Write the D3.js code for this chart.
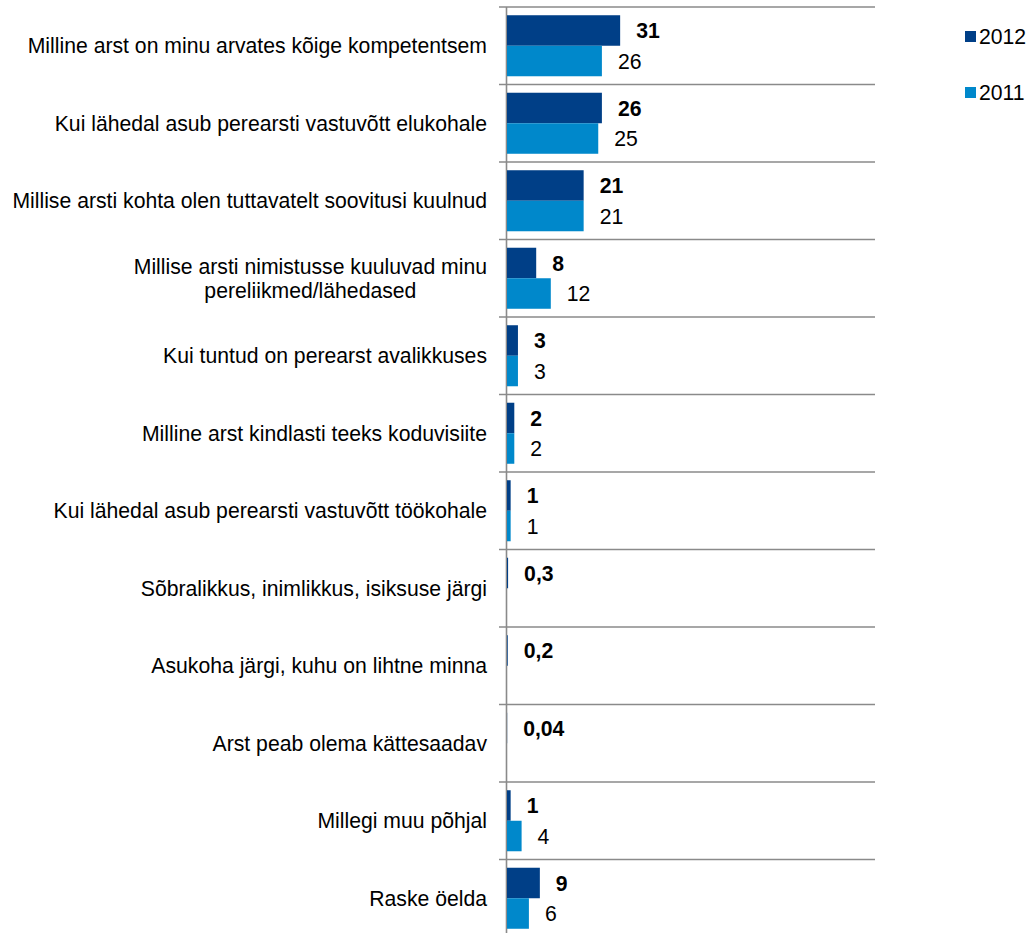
<!DOCTYPE html>
<html>
<head>
<meta charset="utf-8">
<script src="https://cdn.jsdelivr.net/npm/d3@7/dist/d3.min.js"></script>
<style>
  html, body { margin: 0; padding: 0; background: #fff; }
  svg { display: block; font-family: "Liberation Sans", Arial, sans-serif; }
</style>
</head>
<body>
<svg id="chart" width="1029" height="933"></svg>
<script>
// Survey reasons for choosing a family doctor (%), 2012 vs 2011
const categories = [
  ["Milline arst on minu arvates kõige kompetentsem"],
  ["Kui lähedal asub perearsti vastuvõtt elukohale"],
  ["Millise arsti kohta olen tuttavatelt soovitusi kuulnud"],
  ["Millise arsti nimistusse kuuluvad minu", "pereliikmed/lähedased"],
  ["Kui tuntud on perearst avalikkuses"],
  ["Milline arst kindlasti teeks koduvisiite"],
  ["Kui lähedal asub perearsti vastuvõtt töökohale"],
  ["Sõbralikkus, inimlikkus, isiksuse järgi"],
  ["Asukoha järgi, kuhu on lihtne minna"],
  ["Arst peab olema kättesaadav"],
  ["Millegi muu põhjal"],
  ["Raske öelda"]
];
const seriesNames = ["2012", "2011"];
const values2012 = [31, 26, 21, 8, 3, 2, 1, 0.3, 0.2, 0.04, 1, 9];
const values2011 = [26, 25, 21, 12, 3, 2, 1, null, null, null, 4, 6];
const seriesColors = ["#003f87", "#0088cb"];

const svg = d3.select("#chart");
const axisX = 507;
const plotTop = 7, bandH = 77.5;
const fontSize = 21.2;

const x = d3.scaleLinear().domain([0, 1]).range([axisX, axisX + 3.65]);
const y0 = d3.scaleBand()
  .domain(d3.range(categories.length))
  .range([plotTop, plotTop + bandH * categories.length])
  .padding(0);
const y1 = d3.scaleBand()
  .domain(seriesNames)
  .range([0, y0.bandwidth()])
  .paddingInner(0)
  .paddingOuter(0.27);

const fmt = d3.formatLocale({ decimal: ",", thousands: " ", grouping: [3], currency: ["", ""] }).format("~g");

// horizontal separators between categories
const gridY = d3.range(categories.length + 1).map(i => plotTop + i * bandH);
svg.append("g").selectAll("line").data(gridY).join("line")
  .attr("x1", 499).attr("x2", 875)
  .attr("y1", d => d).attr("y2", d => d)
  .attr("stroke", "#8a8a8a").attr("stroke-width", 1.6);

// category axis line
svg.append("line")
  .attr("x1", axisX - 0.5).attr("x2", axisX - 0.5)
  .attr("y1", plotTop).attr("y2", 933)
  .attr("stroke", "#8a8a8a").attr("stroke-width", 1.6);

const rows = categories.map((c, i) => ({
  i, lines: c,
  vals: [
    { s: seriesNames[0], v: values2012[i], c: seriesColors[0], bold: true },
    { s: seriesNames[1], v: values2011[i], c: seriesColors[1], bold: false }
  ]
}));

const grp = svg.append("g").selectAll("g").data(rows).join("g")
  .attr("transform", d => `translate(0,${y0(d.i)})`);

grp.selectAll("rect").data(d => d.vals.filter(e => e.v != null)).join("rect")
  .attr("x", axisX)
  .attr("y", e => y1(e.s))
  .attr("width", e => x(e.v) - axisX)
  .attr("height", y1.bandwidth())
  .attr("fill", e => e.c);

grp.selectAll("text.val").data(d => d.vals.filter(e => e.v != null)).join("text")
  .attr("class", "val")
  .attr("x", e => x(e.v) + 16)
  .attr("y", e => y1(e.s) + y1.bandwidth() / 2)
  .attr("dy", "0.36em")
  .attr("font-size", fontSize)
  .attr("font-weight", e => e.bold ? "bold" : "normal")
  .attr("fill", "#000")
  .text(e => fmt(e.v));

// category labels, multi-line labels centered on their widest line
const labelRight = 487;
grp.each(function(d) {
  const g = d3.select(this);
  const t = g.append("text")
    .attr("font-size", fontSize)
    .attr("fill", "#000");
  const n = d.lines.length;
  const lh = 23.5;
  d.lines.forEach((ln, k) => {
    t.append("tspan")
      .attr("y", bandH / 2 + (k - (n - 1) / 2) * lh)
      .attr("dy", "0.36em")
      .text(ln);
  });
  const spans = t.selectAll("tspan").nodes();
  const widths = spans.map(s => s.getComputedTextLength());
  const maxW = d3.max(widths);
  if (n === 1) {
    t.attr("text-anchor", "end");
    t.selectAll("tspan").attr("x", labelRight);
  } else {
    t.attr("text-anchor", "middle");
    t.selectAll("tspan").attr("x", labelRight - maxW / 2);
  }
});

// legend
const legend = svg.append("g").selectAll("g").data(seriesNames).join("g")
  .attr("transform", (d, i) => `translate(965,${31 + i * 56})`);
legend.append("rect")
  .attr("width", 11).attr("height", 11)
  .attr("fill", (d, i) => seriesColors[i]);
legend.append("text")
  .attr("x", 14).attr("y", 5.5).attr("dy", "0.36em")
  .attr("font-size", fontSize).attr("fill", "#000")
  .text(d => d);
</script>
</body>
</html>
